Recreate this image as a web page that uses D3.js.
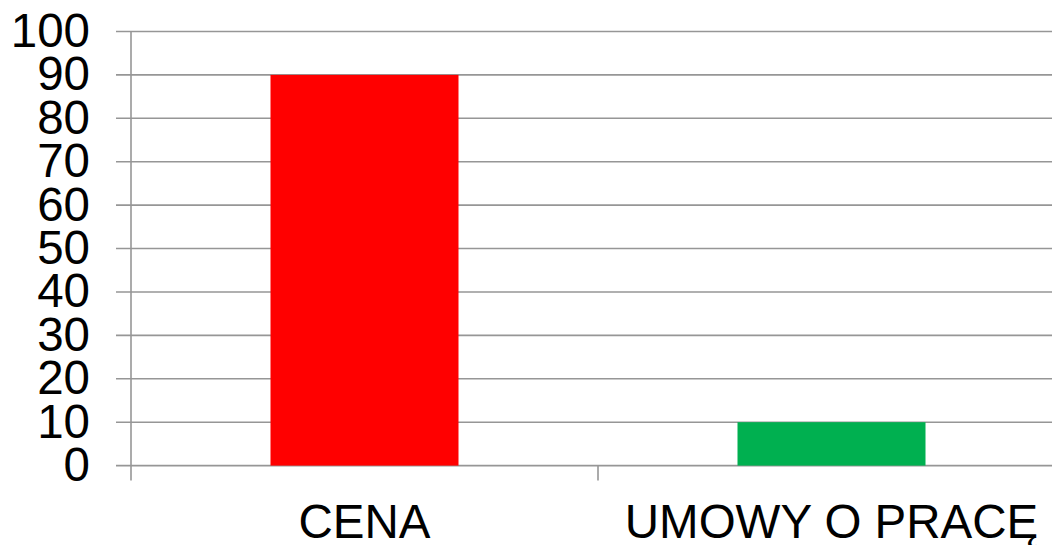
<!DOCTYPE html>
<html><head><meta charset="utf-8">
<script src="https://cdn.jsdelivr.net/npm/d3@7"></script>
<style>html,body{margin:0;padding:0;background:#fff;overflow:hidden}svg{display:block}</style>
</head><body>
<script>
const categories = ["CENA", "UMOWY O PRACĘ"];
const values = [90, 10];
const colors = ["#FF0000", "#00B050"];
const yTicks = [0, 10, 20, 30, 40, 50, 60, 70, 80, 90, 100];

(function () {
const W = 1052, H = 545;
const mLeft = 131, mRight = 1065, mTop = 31.5, mBottom = 465.6;
const svg = d3.select("body").append("svg").attr("width", W).attr("height", H);

const xb = d3.scaleBand().domain(categories).range([mLeft, mRight]);
const y = d3.scaleLinear().domain([0, 100]).range([mBottom, mTop]);

// gridlines
svg.append("g").selectAll("line").data(yTicks).join("line")
  .attr("x1", mLeft - 15).attr("x2", mRight)
  .attr("y1", d => y(d)).attr("y2", d => y(d))
  .attr("stroke", "#969696").attr("stroke-width", 1.6);

// y axis line
svg.append("line").attr("x1", mLeft).attr("x2", mLeft).attr("y1", mTop).attr("y2", mBottom + 15)
  .attr("stroke", "#969696").attr("stroke-width", 1.6);

// category tick marks
svg.append("g").selectAll("line").data(categories.slice(1)).join("line")
  .attr("x1", d => xb(d)).attr("x2", d => xb(d))
  .attr("y1", mBottom).attr("y2", mBottom + 15)
  .attr("stroke", "#969696").attr("stroke-width", 1.6);

// bars
svg.append("g").selectAll("rect").data(categories).join("rect")
  .attr("x", d => xb(d) + xb.bandwidth() / 2 - 94)
  .attr("width", 188)
  .attr("y", (d, i) => y(values[i]))
  .attr("height", (d, i) => y(0) - y(values[i]))
  .attr("fill", (d, i) => colors[i]);

// y labels
svg.append("g").selectAll("text").data(yTicks).join("text")
  .attr("x", 90).attr("y", d => y(d) + 15.5)
  .attr("text-anchor", "end")
  .attr("font-family", "Liberation Sans, Arial, sans-serif")
  .attr("font-size", 47.5).attr("fill", "#000")
  .text(d => d);

// x labels
svg.append("g").selectAll("text").data(categories).join("text")
  .attr("x", d => xb(d) + xb.bandwidth() / 2).attr("y", 538)
  .attr("text-anchor", "middle")
  .attr("font-family", "Liberation Sans, Arial, sans-serif")
  .attr("font-size", 47.5).attr("fill", "#000")
  .text(d => d);
})();
</script>
</body></html>
